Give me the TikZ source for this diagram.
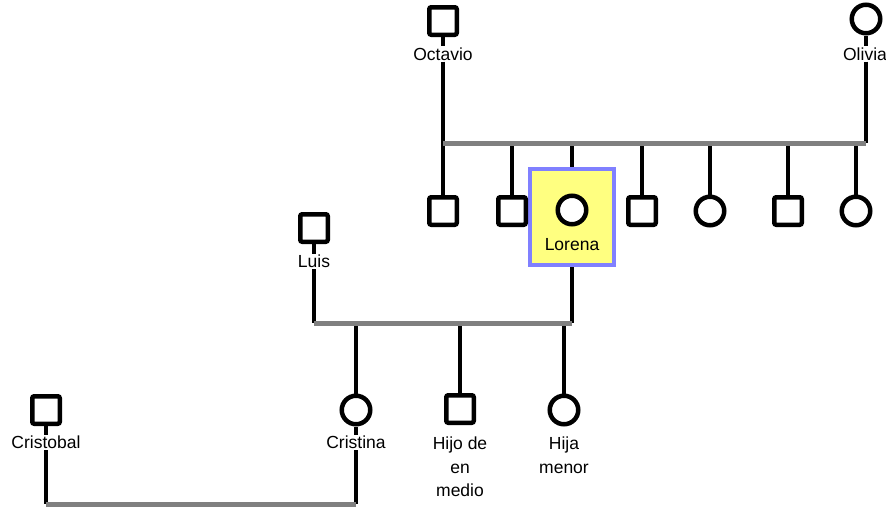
\documentclass[tikz,border=0pt]{standalone}
\usepackage{fontspec}
\setmainfont{Liberation Sans}
\definecolor{hilite}{RGB}{255,255,128}
\definecolor{hiliteedge}{RGB}{128,128,255}
\definecolor{unionline}{RGB}{128,128,128}
\begin{document}
\begin{tikzpicture}[x=1pt,y=-1pt,
  male/.style={draw,line width=4.5pt,rounded corners=2pt,minimum size=27.5pt,inner sep=0pt,fill=white},
  female/.style={draw,circle,line width=4.5pt,minimum size=28.5pt,inner sep=0pt,fill=white},
  lbl/.style={font=\fontsize{17.5}{23.5}\selectfont,inner sep=1pt,align=center},
  kin/.style={line width=4.2pt,black},
  union/.style={line width=5pt,color=unionline},
  focus/.style={draw=hiliteedge,fill=hilite,line width=4pt,minimum width=84pt,minimum height=96pt,inner sep=0pt}]
\useasboundingbox (0,0) rectangle (886,506);

% highlighted person box
\node[focus] (lorenabox) at (572,217) {};

% first generation
\node[male] (octavio) at (443,21) {};
\node[lbl] (octaviol) at (443,54) {Octavio};
\node[female] (olivia) at (866,19) {};
\node[lbl] (olivial) at (865,54) {Olivia};

% children of Octavio and Olivia
\node[male] (c1) at (443,211) {};
\node[male] (c2) at (512,211) {};
\node[female] (lorena) at (572,210) {};
\node[lbl] (lorenal) at (572,245) {Lorena};
\node[male] (c4) at (642,211) {};
\node[female] (c5) at (710,211) {};
\node[male] (c6) at (788,211) {};
\node[female] (c7) at (856,211) {};

% Luis
\node[male] (luis) at (314,228) {};
\node[lbl] (luisl) at (314,261.5) {Luis};

% children of Luis and Lorena
\node[female] (cristina) at (356,410) {};
\node[lbl] (cristinal) at (356,442.5) {Cristina};
\node[male] (hijo) at (460,409) {};
\node[lbl,anchor=north] (hijol) at (460,436) {Hijo de\\en\\medio};
\node[female] (hija) at (564,410) {};
\node[lbl,anchor=north] (hijal) at (564,436) {Hija\\menor};

% Cristobal
\node[male] (cristobal) at (46,410) {};
\node[lbl] (cristoball) at (46,442.5) {Cristobal};

% union points
\coordinate (u1a) at (443,143);
\coordinate (u1b) at (866,143);
\coordinate (u2a) at (314,323);
\coordinate (u2b) at (572,323);
\coordinate (u3a) at (46,504);
\coordinate (u3b) at (356,504);

% parents down to their unions
\draw[kin] (octavio.south) -- (octaviol.north);
\draw[kin] (octaviol.south) -- (u1a);
\draw[kin] (olivia.south) -- (olivia |- olivial.north);
\draw[kin] (olivia |- olivial.south) -- (u1b);
\draw[kin] (luis.south) -- (luisl.north);
\draw[kin] (luisl.south) -- (u2a);
\draw[kin] (lorenabox.south) -- (u2b);
\draw[kin] (cristobal.south) -- (cristoball.north);
\draw[kin] (cristoball.south) -- (u3a);
\draw[kin] (cristinal.south) -- (u3b);

% union down to children
\foreach \c in {c1,c2,c4,c5,c6,c7}
  \draw[kin] (\c |- u1a) -- (\c.north);
\draw[kin] (lorenabox |- u1a) -- (lorenabox.north);
\foreach \c in {cristina,hijo,hija}
  \draw[kin] (\c |- u2a) -- (\c.north);
\draw[kin] (cristina.south) -- (cristinal.north);

% union lines
\draw[union] (u1a) -- (u1b);
\draw[union] (u2a) -- (u2b);
\draw[union] (u3a) -- (u3b);
\end{tikzpicture}
\end{document}
